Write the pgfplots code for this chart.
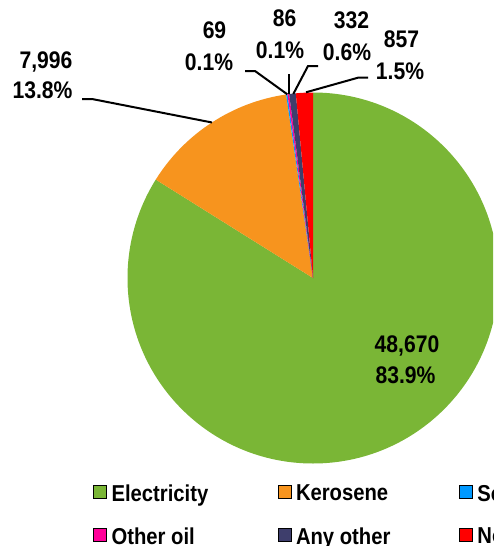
\documentclass[border=0pt]{standalone}
\usepackage{pgfplots}
\pgfplotsset{compat=1.18}
\usepackage{pgfplotstable}
\usepackage{fontspec}
\setmainfont{Liberation Sans}
\newfontfamily\lblfont{Liberation Sans Bold}[FakeStretch=0.88]

\definecolor{celec}{RGB}{122,182,54}
\definecolor{ckero}{RGB}{247,148,30}
\definecolor{csolid}{RGB}{0,153,255}
\definecolor{coil}{RGB}{255,0,153}
\definecolor{cother}{RGB}{62,62,108}
\definecolor{cnone}{RGB}{255,0,0}

\tikzset{lbl/.style={anchor=base, font=\lblfont\fontsize{24}{28}\selectfont, inner sep=0pt}}
\pgfplotsset{sqleg/.style={legend image code/.code={\fill[#1] (0pt,-5pt) rectangle (13pt,8pt);}}}

\pgfplotstableread[col sep=comma]{
name,value,col
Electricity,48670,celec
Kerosene,7996,ckero
Solid fuel,69,csolid
Other oil,86,coil
Any other,332,cother
None,857,cnone
}\piedata

\begin{document}
\begin{tikzpicture}
\useasboundingbox (0,0) rectangle (493pt,546pt);
\clip (0,0) rectangle (493pt,546pt);
\begin{axis}[
  at={(0,0)}, anchor=south west,
  x=1pt, y=1pt, y dir=reverse,
  xmin=0, xmax=493, ymin=0, ymax=546,
  hide axis, clip=false,
  legend columns=3,
  legend cell align=left,
  legend style={at={(axis cs:93,515)}, anchor=west, draw=none, fill=none,
    inner sep=0pt, row sep=25pt,
    font=\lblfont\fontsize{23}{28}\selectfont,
    nodes={inner sep=0pt},
    /tikz/every odd column/.append style={column sep=5pt},
    /tikz/every even column/.append style={column sep=0pt}},
]
\pgfplotstablegetrowsof{\piedata}
\pgfmathtruncatemacro\nrows{\pgfplotsretval-1}
\def\total{0}
\pgfplotsforeachungrouped \i in {0,...,\nrows}{%
  \pgfplotstablegetelem{\i}{value}\of\piedata
  \edef\total{\fpeval{\total+\pgfplotsretval}}%
}
\def\cum{0}
\pgfplotsforeachungrouped \i in {0,...,\nrows}{%
  \pgfplotstablegetelem{\i}{value}\of\piedata
  \let\sliceval\pgfplotsretval
  \pgfplotstablegetelem{\i}{col}\of\piedata
  \let\slicecol\pgfplotsretval
  \pgfplotstablegetelem{\i}{name}\of\piedata
  \let\slicename\pgfplotsretval
  \edef\angA{\fpeval{round(90-360*\cum/\total,4)}}%
  \edef\cum{\fpeval{\cum+\sliceval}}%
  \edef\angB{\fpeval{round(90-360*\cum/\total,4)}}%
  \edef\slicecmd{\noexpand\fill[\slicecol] (axis cs:313,278) -- ++(\angA:185.5pt) arc[start angle=\angA, end angle=\angB, radius=185.5pt] -- cycle;}%
  \slicecmd
  \pgfmathtruncatemacro\legcol{mod(\i,3)}%
  \ifnum\legcol=1 \def\legw{163pt}\else\def\legw{166pt}\fi
  \edef\legcmd{\noexpand\addlegendimage{sqleg, fill=\slicecol}\noexpand\addlegendentry{\noexpand\makebox[\legw][l]{\slicename}}}%
  \legcmd
}
% leader lines
\draw[line width=2pt] (axis cs:82,99) -- (axis cs:92,99) -- (axis cs:212,122.5);
\draw[line width=2pt] (axis cs:245,71) -- (axis cs:255,71) -- (axis cs:287.3,94.3);
\draw[line width=2pt] (axis cs:289.3,74) -- (axis cs:289.3,94.3);
\draw[line width=2pt] (axis cs:318,66) -- (axis cs:308,66) -- (axis cs:293.3,94);
\draw[line width=2pt] (axis cs:368,77.7) -- (axis cs:358,77.7) -- (axis cs:306,92.3);
% labels
\node[lbl] at (axis cs:46,68) {7,996};
\node[lbl] at (axis cs:42.5,98) {13.8\%};
\node[lbl] at (axis cs:214.5,38) {69};
\node[lbl] at (axis cs:209,70) {0.1\%};
\node[lbl] at (axis cs:284.5,27) {86};
\node[lbl] at (axis cs:280,58) {0.1\%};
\node[lbl] at (axis cs:351.5,28) {332};
\node[lbl] at (axis cs:347,60) {0.6\%};
\node[lbl] at (axis cs:401.5,47) {857};
\node[lbl] at (axis cs:400,79) {1.5\%};
\node[lbl] at (axis cs:407,352) {48,670};
\node[lbl] at (axis cs:405.5,383) {83.9\%};
\end{axis}
\end{tikzpicture}
\end{document}
